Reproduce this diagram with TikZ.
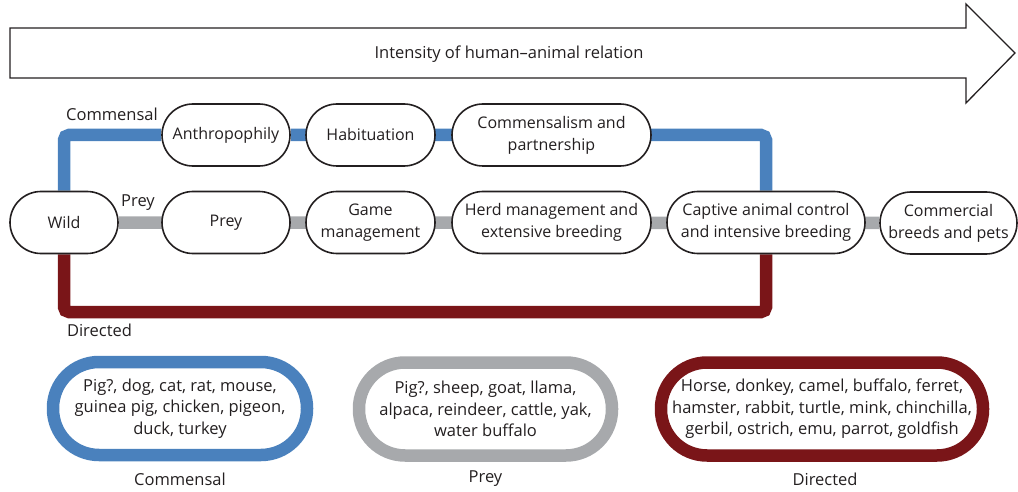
\documentclass[tikz,border=0pt]{standalone}
\usepackage{fontspec}
\setmainfont{Open Sans}
\usepackage{tikz}
\usetikzlibrary{backgrounds}

\definecolor{inkgray}{RGB}{35,31,32}
\definecolor{commblue}{RGB}{74,129,189}
\definecolor{preygray}{RGB}{167,169,172}
\definecolor{dirred}{RGB}{122,21,24}

\begin{document}
\begin{tikzpicture}[x=1pt, y=-1pt, font=\fontsize{16.5}{21.5}\selectfont, text=inkgray,
    stage/.style={draw=inkgray, line width=1.6pt, fill=white, rounded corners=31pt,
        minimum height=62pt, align=center, inner sep=1pt,
        font=\fontsize{16}{22}\selectfont},
    group/.style={line width=12.5pt, fill=white, rounded corners=46pt,
        minimum height=93pt, align=center, inner sep=1pt},
    route/.style={line width=12.5pt, rounded corners=5pt}]
        \useasboundingbox (0,0) rectangle (1018,492);

        \draw [inkgray, line width=1.3pt, line join=miter]
        (10,28) -- (966,28) -- (966,4) -- (1015,53) --
        (966,103) -- (966,78) -- (10,78) -- cycle;
        \node (intensity) at (509,54) {Intensity of human--animal relation};

        \node [stage, minimum width=128pt] (anthro) at (226,135) {Anthropophily};
        \node [stage, minimum width=129pt] (habit) at (370.5,135) {Habituation};
        \node [stage, minimum width=199pt] (commens) at (551.5,135) {Commensalism and\\partnership};

        \node [stage, minimum width=108pt] (wild) at (64,222.5) {Wild};
        \node [stage, minimum width=128pt] (prey) at (226,222.5) {Prey};
        \node [stage, minimum width=129pt] (game) at (370.5,222.5) {Game\\management};
        \node [stage, minimum width=199pt] (herd) at (551.5,222.5) {Herd management and\\extensive breeding};
        \node [stage, minimum width=198pt] (captive) at (766,222.5) {Captive animal control\\and intensive breeding};
        \node [stage, minimum width=137pt] (commercial) at (948.5,223) {Commercial\\breeds and pets};

        \node (commlabel) at (112,114) {Commensal};
        \node (preylabel) at (138,203) {Prey};
        \node (dirlabel) at (99.5,330) {Directed};

        \begin{scope}[on background layer]
        \draw [route, commblue] (wild) |- (anthro) -| (captive);
        \draw [route, preygray] (wild) -- (commercial);
        \draw [route, dirred] (wild) -- ++(0,89.5) -| (captive);
        \end{scope}

        \node [group, draw=commblue, minimum width=254pt] (commgroup) at (180,408.5)
        {Pig?, dog, cat, rat, mouse,\\guinea pig, chicken, pigeon,\\duck, turkey};
        \node [group, draw=preygray, minimum width=253pt] (preygroup) at (485.5,409)
        {Pig?, sheep, goat, llama,\\alpaca, reindeer, cattle, yak,\\water buffalo};
        \node [group, draw=dirred, minimum width=322pt] (dirgroup) at (822,409)
        {Horse, donkey, camel, buffalo, ferret,\\hamster, rabbit, turtle, mink, chinchilla,\\gerbil, ostrich, emu, parrot, goldfish};

        \node (commcap) at (180,479) {Commensal};
        \node (preycap) at (485.5,479) {Prey};
        \node (dircap) at (825,479) {Directed};
    \end{tikzpicture}
\end{document}
